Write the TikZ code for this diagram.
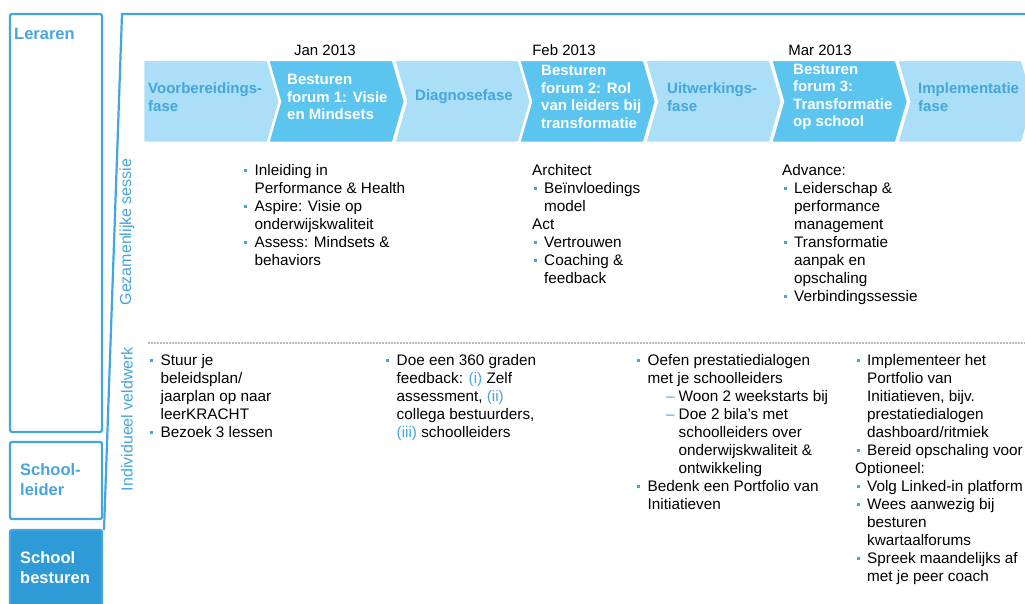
\documentclass[tikz,border=0pt]{standalone}
\usepackage{fontspec}
\setmainfont{Liberation Sans}

\definecolor{lineblue}{HTML}{45A5DE}
\definecolor{darkchev}{HTML}{5CC5EF}
\definecolor{lightchev}{HTML}{AADFF7}
\definecolor{chevtext}{HTML}{45A6DC}
\definecolor{boxblue}{HTML}{2F9BD6}
\definecolor{dotblue}{HTML}{3EA8DD}
\definecolor{dashgrey}{HTML}{B8B8B8}

% bullets and hanging indents for the lists
\newcommand{\bli}{\makebox[12pt][l]{\hspace{1.5pt}\textcolor{dotblue}{\rule[3.5pt]{3pt}{3pt}}}}
\newcommand{\blc}{\hspace*{12pt}}
\newcommand{\sli}{\hspace*{12pt}\makebox[31pt][r]{\textcolor{dotblue}{--}\hspace{4pt}}}
\newcommand{\slc}{\hspace*{43pt}}

\begin{document}
\begin{tikzpicture}[x=1pt, y=-1pt,
  boxline/.style={draw=lineblue, line width=2.2pt},
  chevron/.style={draw=white, line width=2.5pt},
  lighttext/.style={inner sep=0pt, anchor=west, align=left, text=chevtext,
    font=\fontsize{15}{17.5}\selectfont\bfseries},
  darktext/.style={lighttext, text=white},
  datelabel/.style={inner sep=0pt, font=\fontsize{15}{18}\selectfont},
  bodytext/.style={inner sep=0pt, anchor=north west, align=left,
    font=\fontsize{15.3}{18}\selectfont},
  sidelabel/.style={inner sep=0pt, rotate=90, text=lineblue,
    font=\fontsize{16}{18}\selectfont},
  rolelabel/.style={inner sep=0pt, anchor=north west, align=left,
    font=\fontsize{16.5}{20}\selectfont\bfseries}]
  \useasboundingbox (0,0) rectangle (1025,604);
  \clip (0,0) rectangle (1025,604);

  % roles on the left
  \draw[boxline, rounded corners=2pt] (10,14) rectangle (102,432);
  \draw[boxline, rounded corners=2pt] (10,442) rectangle (102,519);
  \filldraw[boxline, fill=boxblue, rounded corners=2pt] (10,530) rectangle (102,620);
  \node[rolelabel, text=lineblue] (leraren) at (14,28) {Leraren};
  \node[rolelabel, text=lineblue] (leider) at (20,463) {School-\\leider};
  \node[rolelabel, text=white] (besturen) at (20,551) {School\\besturen};

  % frame of the programme
  \draw[boxline] (1040,14) -- (122,14) -- (104,530);

  % phases
  \filldraw[chevron, fill=lightchev] (143,60) -- (268,60) -- (280,101.5)
    -- (268,143) -- (143,143) -- cycle;
  \foreach \x/\f in {268/darkchev, 394/lightchev, 519/darkchev,
                     645/lightchev, 771/darkchev, 897/lightchev}
    \filldraw[chevron, fill=\f] (\x,60) -- ++(125,0) -- ++(12,41.5)
      -- ++(-12,41.5) -- ++(-125,0) -- ++(12,-41.5) -- cycle;

  \node[lighttext] (voorb) at (148,97) {Voorbereidings-\\fase};
  \node[darktext] (forum1) at (287,97) {Besturen\\forum 1: Visie\\en Mindsets};
  \node[lighttext] (diagn) at (415,97) {Diagnosefase};
  \node[darktext] (forum2) at (541,97) {Besturen\\forum 2: Rol\\van leiders bij\\transformatie};
  \node[lighttext] (uitw) at (667,97) {Uitwerkings-\\fase};
  \node[darktext] (forum3) at (793,97) {Besturen\\forum 3:\\Transformatie\\op school};
  \node[lighttext] (impl) at (918,97) {Implementatie\\fase};

  % dates of the forums
  \node[datelabel] (jan) at (325,50) {Jan 2013};
  \node[datelabel] (feb) at (564,50) {Feb 2013};
  \node[datelabel] (mar) at (820,50) {Mar 2013};

  % side labels
  \node[sidelabel] (gez) at (127,232) {Gezamenlijke sessie};
  \node[sidelabel] (ind) at (127,419) {Individueel veldwerk};
  \draw[dashgrey, line width=1.5pt, dash pattern=on 2pt off 1pt] (148,343) -- (1040,343);

  % joint sessions
  \node[bodytext] (gez1) at (242.5,164) {\bli Inleiding in\\ \blc Performance \& Health\\
    \bli Aspire: Visie op\\ \blc onderwijskwaliteit\\ \bli Assess: Mindsets \&\\ \blc behaviors};
  \node[bodytext] (gez2) at (532,164) {Architect\\ \bli Beïnvloedings\\ \blc model\\ Act\\
    \bli Vertrouwen\\ \bli Coaching \&\\ \blc feedback};
  \node[bodytext] (gez3) at (782,164) {Advance:\\ \bli Leiderschap \&\\ \blc performance\\
    \blc management\\ \bli Transformatie\\ \blc aanpak en\\ \blc opschaling\\
    \bli Verbindingssessie};

  % field work
  \node[bodytext] (ind1) at (148.5,354) {\bli Stuur je\\ \blc beleidsplan/\\
    \blc jaarplan op naar\\ \blc leerKRACHT\\ \bli Bezoek 3 lessen};
  \node[bodytext] (ind2) at (384.5,354) {\bli Doe een 360 graden\\
    \blc feedback: \textcolor{chevtext}{(i)} Zelf\\ \blc assessment, \textcolor{chevtext}{(ii)}\\
    \blc collega bestuurders,\\ \blc \textcolor{chevtext}{(iii)} schoolleiders};
  \node[bodytext] (ind3) at (635.5,354) {\bli Oefen prestatiedialogen\\ \blc met je schoolleiders\\
    \sli Woon 2 weekstarts bij\\ \sli Doe 2 bila's met\\ \slc schoolleiders over\\
    \slc onderwijskwaliteit \&\\ \slc ontwikkeling\\ \bli Bedenk een Portfolio van\\
    \blc Initiatieven};
  \node[bodytext] (ind4) at (855,354) {\bli Implementeer het\\ \blc Portfolio van\\
    \blc Initiatieven, bijv.\\ \blc prestatiedialogen\\ \blc dashboard/ritmiek\\
    \bli Bereid opschaling voor\\ Optioneel:\\ \bli Volg Linked-in platform\\
    \bli Wees aanwezig bij\\ \blc besturen\\ \blc kwartaalforums\\
    \bli Spreek maandelijks af\\ \blc met je peer coach};
\end{tikzpicture}
\end{document}
